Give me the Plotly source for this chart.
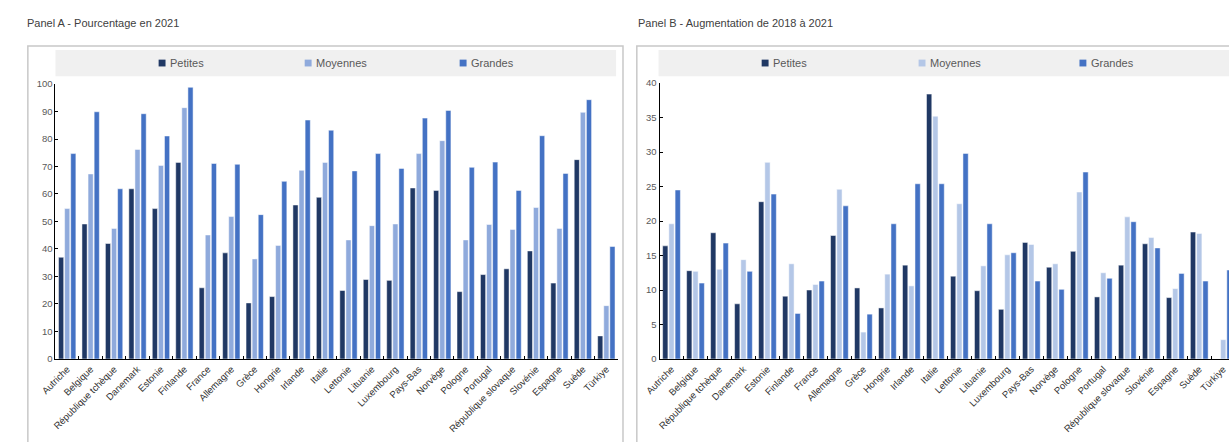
import plotly.graph_objects as go

W, H = 1229, 442

pays = ["Autriche", "Belgique", "République tchèque", "Danemark", "Estonie", "Finlande",
        "France", "Allemagne", "Grèce", "Hongrie", "Irlande", "Italie", "Lettonie",
        "Lituanie", "Luxembourg", "Pays-Bas", "Norvège", "Pologne", "Portugal",
        "République slovaque", "Slovénie", "Espagne", "Suède", "Türkiye"]

# Panel A - pourcentage en 2021
a_petites = [37.0, 49.1, 42.0, 61.9, 54.7, 71.5, 25.9, 38.6, 20.4, 22.7, 56.0, 58.8,
             24.9, 28.9, 28.6, 62.2, 61.3, 24.5, 30.7, 32.8, 39.3, 27.6, 72.5, 8.4]
a_moyennes = [54.7, 67.3, 47.5, 76.2, 70.4, 91.4, 45.1, 51.8, 36.4, 41.3, 68.6, 71.5,
              43.3, 48.5, 49.1, 74.7, 79.4, 43.3, 48.9, 47.1, 55.1, 47.5, 89.7, 19.4]
a_grandes = [74.7, 89.9, 61.9, 89.2, 81.1, 98.8, 71.1, 70.8, 52.5, 64.6, 86.9, 83.2,
             68.4, 74.7, 69.3, 87.6, 90.4, 69.7, 71.6, 61.3, 81.2, 67.5, 94.3, 40.9]

# Panel B - augmentation de 2018 à 2021
b_petites = [16.4, 12.8, 18.3, 8.0, 22.8, 9.1, 10.0, 17.9, 10.3, 7.4, 13.6, 38.4,
             12.0, 9.9, 7.2, 16.9, 13.3, 15.6, 9.0, 13.6, 16.7, 8.9, 18.4, 0.0]
b_moyennes = [19.6, 12.7, 13.0, 14.4, 28.5, 13.8, 10.8, 24.6, 3.9, 12.3, 10.6, 35.2,
              22.5, 13.5, 15.1, 16.6, 13.8, 24.2, 12.5, 20.6, 17.6, 10.2, 18.2, 2.8]
b_grandes = [24.5, 11.0, 16.8, 12.7, 23.9, 6.6, 11.3, 22.2, 6.5, 19.6, 25.4, 25.4,
             29.8, 19.6, 15.4, 11.3, 10.1, 27.1, 11.7, 19.9, 16.1, 12.4, 11.3, 12.9]

series = ["Petites", "Moyennes", "Grandes"]
colors_a = ["#203864", "#8faadc", "#4472c4"]
colors_b = ["#203864", "#b4c7e7", "#4472c4"]

FONT = "Liberation Sans Narrow, Arial Narrow, Liberation Sans, Arial, sans-serif"


def px(x):
    return x / W


def py(y):
    return 1 - y / H


fig = go.Figure()

for name, vals, col in zip(series, [a_petites, a_moyennes, a_grandes], colors_a):
    fig.add_trace(go.Bar(x=pays, y=vals, name=name, marker_color=col,
                         marker_line=dict(color="white", width=0.5),
                         xaxis="x", yaxis="y", showlegend=False))
for name, vals, col in zip(series, [b_petites, b_moyennes, b_grandes], colors_b):
    fig.add_trace(go.Bar(x=pays, y=vals, name=name, marker_color=col,
                         marker_line=dict(color="white", width=0.5),
                         xaxis="x2", yaxis="y2", showlegend=False))

y0, y_a, y_b = 362, 80, 79

xcommon = dict(type="category", showline=True, linecolor="black", linewidth=1,
               ticks="inside", ticklen=3, tickcolor="black", tickson="boundaries",
               tickangle=-45, tickfont=dict(size=9.5, color="#333333", family=FONT),
               showgrid=False, zeroline=False, fixedrange=True)
ycommon = dict(showline=True, linecolor="black", linewidth=1, ticks="inside",
               ticklen=3, tickcolor="black", showgrid=False, zeroline=False,
               tickfont=dict(size=9.5, color="#595959", family=FONT))

fig.update_layout(
    width=W, height=H, autosize=False,
    margin=dict(l=0, r=0, t=0, b=0),
    paper_bgcolor="white", plot_bgcolor="white",
    barmode="group", bargap=0.22, bargroupgap=0.15,
    font=dict(family=FONT, color="#595959"),
    xaxis=dict(domain=[px(40), px(610)], anchor="y", range=[-0.5, 23.5], **xcommon),
    yaxis=dict(domain=[py(y0), py(y_a)], anchor="x", range=[0, 100], dtick=10, **ycommon),
    xaxis2=dict(domain=[px(652), 1.0], anchor="y2", range=[-0.5, 23.24], **xcommon),
    yaxis2=dict(domain=[py(y0), py(y_b)], anchor="x2", range=[0, 40], dtick=5, **ycommon),
)

shapes = []
annotations = []

# panel frames and legend bands
for x0, x1 in [(12, 615), (629, 1240)]:
    shapes.append(dict(type="rect", xref="paper", yref="paper",
                       x0=px(x0), x1=px(x1), y0=py(460), y1=py(41),
                       line=dict(color="#c8c8c8", width=1.5), fillcolor="rgba(0,0,0,0)",
                       layer="below"))
for x0, x1 in [(40, 608), (651, 1229)]:
    shapes.append(dict(type="rect", xref="paper", yref="paper",
                       x0=px(x0), x1=px(x1), y0=py(72), y1=py(45),
                       line=dict(width=0), fillcolor="#f0f0f0", layer="below"))

# legend entries
legend_pos = [
    (colors_a, [148, 296, 453]),
    (colors_b, [759, 918, 1081]),
]
for cols, xs in legend_pos:
    for name, col, xc in zip(series, cols, xs):
        shapes.append(dict(type="rect", xref="paper", yref="paper",
                           x0=px(xc - 3.5), x1=px(xc + 3.5), y0=py(62), y1=py(55),
                           line=dict(width=0), fillcolor=col))
        annotations.append(dict(text=name, xref="paper", yref="paper",
                                x=px(xc + 6), y=py(58.5), xanchor="left", yanchor="middle",
                                showarrow=False,
                                font=dict(size=11, color="#595959", family=FONT)))

# panel titles
for text, x in [("Panel A - Pourcentage en 2021", 9),
                ("Panel B - Augmentation de 2018 à 2021", 628)]:
    annotations.append(dict(text=text, xref="paper", yref="paper", x=px(x), y=py(17),
                            xanchor="left", yanchor="middle", showarrow=False,
                            font=dict(size=11, color="#404040", family=FONT)))

fig.update_layout(shapes=shapes, annotations=annotations)

fig.write_html("out.html", config={"displayModeBar": False},
               post_script="document.body.style.margin='0';document.body.style.overflow='hidden';")
